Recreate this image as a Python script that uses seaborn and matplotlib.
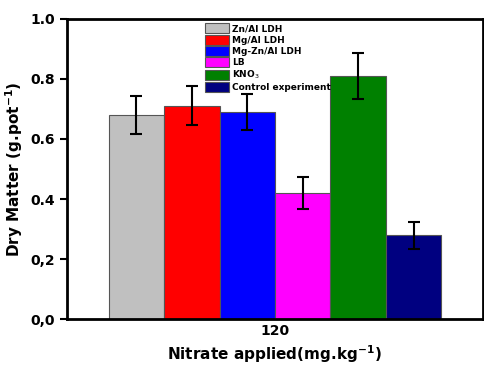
import matplotlib
matplotlib.use("Agg")
import matplotlib.pyplot as plt
import seaborn as sns
import pandas as pd

categories = ["120"] * 6
treatments = ["Zn/Al LDH", "Mg/Al LDH", "Mg-Zn/Al LDH", "LB", "KNO$_3$", "Control experiment"]
values = [0.68, 0.71, 0.69, 0.42, 0.81, 0.28]
errors = [0.063, 0.065, 0.06, 0.053, 0.077, 0.045]
colors = ["#c0c0c0", "#ff0000", "#0000ff", "#ff00ff", "#008000", "#000080"]
yticks = [0.0, 0.2, 0.4, 0.6, 0.8, 1.0]
ytick_labels = ["0,0", "0,2", "0.4", "0.6", "0.8", "1.0"]

sns.set_style("white")
plt.rcParams['font.family'] = ['DejaVu Sans']
plt.rcParams['text.color'] = 'black'
plt.rcParams['axes.labelcolor'] = 'black'
plt.rcParams['xtick.color'] = 'black'
plt.rcParams['ytick.color'] = 'black'

df = pd.DataFrame({"dose": categories, "treatment": treatments, "value": values})

fig = plt.figure(figsize=(4.85, 3.71), dpi=100)
ax = fig.add_axes([0.138, 0.140, 0.858, 0.809])

sns.barplot(data=df, x="dose", y="value", hue="treatment", hue_order=treatments,
            palette=colors, errorbar=None, width=0.8, edgecolor="#555555",
            linewidth=0.8, ax=ax, saturation=1)

bars = [p for p in ax.patches if p.get_height() > 0][:len(values)]
for p, e in zip(bars, errors):
    xc = p.get_x() + p.get_width() / 2
    ax.errorbar(xc, p.get_height(), yerr=e, fmt="none", ecolor="black",
                elinewidth=1.5, capsize=4, capthick=1.5, zorder=5)

ax.set_ylim(0, 1.0)
ax.set_xlim(-0.5, 0.5)
ax.set_yticks(yticks)
ax.set_yticklabels(ytick_labels, fontweight="bold", fontsize=10, color="black")
for lab in ax.get_xticklabels():
    lab.set_fontweight("bold")
    lab.set_fontsize(10)
    lab.set_color("black")
ax.tick_params(axis="y", direction="out", length=5, width=1.5, left=True, colors="black")
ax.tick_params(axis="x", length=0)
for s in ax.spines.values():
    s.set_linewidth(2)
    s.set_color("black")

ax.set_ylabel("Dry Matter (g.pot$^{\\mathbf{-1}}$)", fontweight="bold", fontsize=11, color="black")
ax.set_xlabel("Nitrate applied(mg.kg$^{\\mathbf{-1}}$)", fontweight="bold", fontsize=11, color="black")

leg = ax.legend(loc="upper left", bbox_to_anchor=(0.32, 1.0), frameon=False,
                prop={"weight": "bold", "size": 6.5}, handlelength=2.7,
                handleheight=1.3, labelspacing=0.15, handletextpad=0.3,
                borderaxespad=0.1, labelcolor="black")
for h in leg.legend_handles:
    h.set_edgecolor("#555555")

fig.savefig("out.png", dpi=100)
